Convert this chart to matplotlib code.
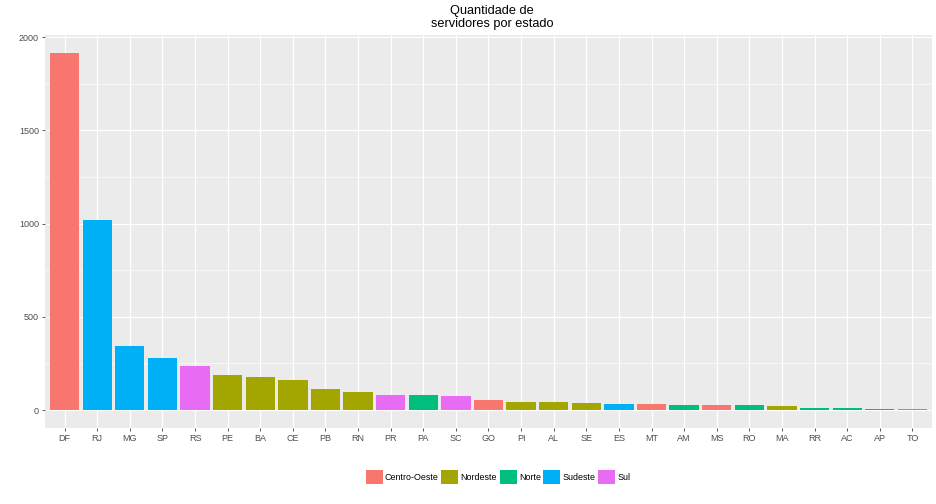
import matplotlib
matplotlib.use("Agg")
import matplotlib.pyplot as plt
from matplotlib.patches import Patch

plt.rcParams['font.family'] = ['Liberation Sans', 'DejaVu Sans']

estados = ['DF', 'RJ', 'MG', 'SP', 'RS', 'PE', 'BA', 'CE', 'PB', 'RN', 'PR', 'PA', 'SC', 'GO',
           'PI', 'AL', 'SE', 'ES', 'MT', 'AM', 'MS', 'RO', 'MA', 'RR', 'AC', 'AP', 'TO']
servidores = [1915, 1018, 343, 279, 236, 188, 177, 161, 113, 96, 80, 80, 75, 54,
              43, 43, 38, 32, 32, 27, 27, 27, 21, 11, 11, 5, 5]
regioes = ['Centro-Oeste', 'Sudeste', 'Sudeste', 'Sudeste', 'Sul', 'Nordeste', 'Nordeste', 'Nordeste',
           'Nordeste', 'Nordeste', 'Sul', 'Norte', 'Sul', 'Centro-Oeste', 'Nordeste', 'Nordeste',
           'Nordeste', 'Sudeste', 'Centro-Oeste', 'Norte', 'Centro-Oeste', 'Norte', 'Nordeste',
           'Norte', 'Norte', 'Norte', 'Nordeste']
nomes_regioes = ['Centro-Oeste', 'Nordeste', 'Norte', 'Sudeste', 'Sul']
cores = ['#F8766D', '#A3A500', '#00BF7D', '#00B0F6', '#E76BF3']
cor_regiao = dict(zip(nomes_regioes, cores))

fig = plt.figure(figsize=(13, 7), dpi=72)
ax = fig.add_axes([45 / 936, 1 - 428 / 504, 887 / 936, 393 / 504])
ax.set_facecolor('#EBEBEB')

x = range(len(estados))
ax.bar(x, servidores, width=0.9, color=[cor_regiao[r] for r in regioes], zorder=3)

n = len(estados)
ax.set_xlim(-0.6, n - 1 + 0.6)
ymax = max(servidores)
ax.set_ylim(-0.05 * ymax, ymax * 1.05)

ax.set_yticks([0, 500, 1000, 1500, 2000])
ax.set_yticks([250, 750, 1250, 1750], minor=True)
ax.set_xticks(list(x))
ax.set_xticklabels(estados)
ax.grid(which='major', color='white', linewidth=1.2, zorder=0)
ax.grid(which='minor', axis='y', color='white', linewidth=0.6, zorder=0)
ax.tick_params(axis='both', which='major', length=3, color='#333333', labelcolor='#4D4D4D',
               labelsize=9, width=0.8, pad=3)
ax.tick_params(axis='y', which='minor', length=0)
for s in ax.spines.values():
    s.set_visible(False)

fig.text(0.5 + 24 / 936, 1 - 5 / 504, 'Quantidade de\nservidores por estado', ha='center', va='top',
         fontsize=12.8, linespacing=1.1)

handles = [Patch(facecolor=c, edgecolor='none', label=r) for r, c in zip(nomes_regioes, cores)]
fig.legend(handles=handles, loc='center', bbox_to_anchor=(498 / 936, 1 - 477 / 504), ncol=5,
           frameon=False, fontsize=8.9, handlelength=1.9, handleheight=1.9, handletextpad=0.25,
           columnspacing=0.3, borderpad=0)

fig.savefig('out.png', dpi=72)
